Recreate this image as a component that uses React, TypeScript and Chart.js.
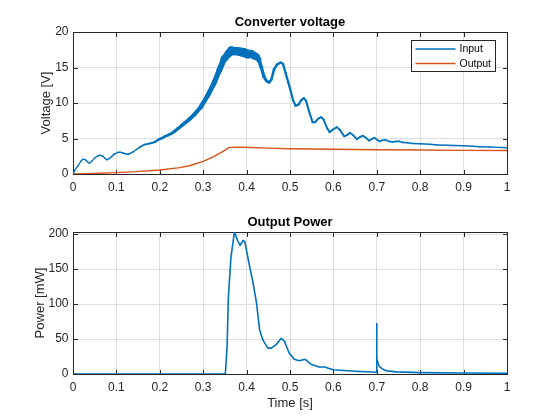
import React, { useEffect, useRef } from "react";
import { Chart, registerables } from "chart.js";

Chart.register(...registerables);

// ---- data ----
const INPUT_T = [
  0, 0.005, 0.0115, 0.018, 0.023, 0.029, 0.034, 0.038, 0.044, 0.05, 0.056, 0.062, 0.069, 0.074, 0.078,
  0.083, 0.088, 0.095, 0.104, 0.11, 0.115, 0.121, 0.127, 0.132, 0.138, 0.146, 0.154, 0.165, 0.175,
  0.181, 0.19, 0.196, 0.205, 0.212, 0.22, 0.227, 0.235, 0.242, 0.25, 0.258, 0.269, 0.28, 0.294, 0.31,
  0.325, 0.337, 0.348, 0.359, 0.365, 0.371, 0.378, 0.386, 0.394, 0.402, 0.41, 0.417, 0.423, 0.428,
  0.434, 0.44, 0.446, 0.452, 0.457, 0.463, 0.47, 0.478, 0.484, 0.49, 0.496, 0.502, 0.507, 0.513,
  0.52, 0.526, 0.532, 0.537, 0.544, 0.552, 0.558, 0.565, 0.572, 0.578, 0.586, 0.591, 0.6, 0.608,
  0.615, 0.625, 0.632, 0.638, 0.645, 0.654, 0.661, 0.668, 0.675, 0.682, 0.689, 0.695, 0.7, 0.706,
  0.713, 0.72, 0.728, 0.737, 0.745, 0.752, 0.76, 0.77, 0.783, 0.8, 0.822, 0.84, 0.86, 0.88, 0.9,
  0.92, 0.937, 0.96, 0.98, 1.0,
];
const INPUT_V = [
  0, 0.6, 1.15, 1.8, 2.1, 2.0, 1.7, 1.5, 1.85, 2.25, 2.5, 2.65, 2.5, 2.2, 2.0,
  2.15, 2.4, 2.8, 3.05, 3.05, 2.95, 2.85, 2.78, 2.9, 3.1, 3.45, 3.8, 4.15, 4.28,
  4.35, 4.55, 4.8, 5.05, 5.3, 5.5, 5.7, 6.05, 6.4, 6.8, 7.2, 7.75, 8.4, 9.4, 11.0,
  12.8, 14.6, 16.2, 17.0, 17.4, 17.3, 17.3, 17.2, 17.1, 16.9, 16.9, 16.7, 16.5, 16.1,
  15.0, 13.7, 13.1, 12.9, 13.3, 14.7, 15.4, 15.7, 15.5, 14.2, 12.9, 11.6, 10.4, 9.6,
  9.8, 10.4, 10.7, 10.3, 8.8, 7.3, 7.3, 7.8, 8.0, 7.6, 6.4, 5.9, 6.3, 6.6,
  6.2, 5.3, 5.5, 5.8, 5.5, 4.9, 5.2, 5.4, 5.1, 4.7, 4.95, 5.1, 4.85, 4.6,
  4.75, 4.8, 4.6, 4.5, 4.6, 4.6, 4.45, 4.4, 4.3, 4.25, 4.2, 4.1, 4.05, 4.0, 3.98,
  3.9, 3.85, 3.8, 3.75, 3.7,
];

const OUTPUT_T = [0, 0.03, 0.06, 0.1, 0.146, 0.2, 0.246, 0.27, 0.3, 0.323, 0.346, 0.358, 0.365, 0.377, 0.408, 0.45, 0.5, 0.6, 0.7, 0.8, 0.9, 1.0];
const OUTPUT_V = [0, 0.05, 0.1, 0.2, 0.33, 0.57, 0.9, 1.2, 1.77, 2.4, 3.2, 3.68, 3.75, 3.78, 3.73, 3.65, 3.55, 3.48, 3.42, 3.38, 3.33, 3.3];

const POWER_T = [
  0, 0.351, 0.355, 0.358, 0.364, 0.372, 0.379, 0.385, 0.392, 0.396, 0.404, 0.415, 0.423, 0.43, 0.438,
  0.449, 0.457, 0.468, 0.48, 0.487, 0.498, 0.51, 0.521, 0.535, 0.548, 0.567, 0.58, 0.59, 0.6, 0.65,
  0.69, 0.6995, 0.6998, 0.7002, 0.704, 0.708, 0.715, 0.723, 0.746, 0.8, 0.9, 1.0,
];
const POWER_MW = [
  0, 0, 39, 110, 167, 203, 191, 184, 191, 189, 163, 130, 101, 63, 48,
  37, 37, 42, 51, 47, 30, 21, 19, 21, 14, 10, 10, 8, 6, 4,
  2.9, 2.5, 72, 22, 13, 9.5, 6.5, 4.5, 3, 2, 1.5, 1,
];

const X_TICKS = [0, 0.1, 0.2, 0.3, 0.4, 0.5, 0.6, 0.7, 0.8, 0.9, 1];
const V_TICKS = [0, 5, 10, 15, 20];
const P_TICKS = [0, 50, 100, 150, 200];
const V_MAX = 20;
const P_MAX = 203;

// ---- style ----
const FONT = '"Liberation Sans", Arial, Helvetica, sans-serif';
const AX = "#262626";
const GRID = "#dfdfdf";
const BLUE = "#0072BD";
const ORANGE = "#D95319";

// stroke thickness profile used to imitate the noisy band of the measured signal
const WIDTH_AT: [number, number][] = [
  [0, 1.3], [0.15, 1.5], [0.2, 2.3], [0.25, 3.4], [0.3, 4.4], [0.34, 5.5], [0.36, 8],
  [0.4, 9], [0.42, 7], [0.432, 3.5], [0.45, 2.6], [0.5, 2.2], [0.6, 1.9], [0.75, 1.6], [1, 1.4],
];

const pts = (xs: number[], ys: number[]) => xs.map((x, i) => ({ x, y: ys[i] }));

const noiseWidth = (t: number) => {
  for (let i = 1; i < WIDTH_AT.length; i++) {
    const [t1, w1] = WIDTH_AT[i];
    const [t0, w0] = WIDTH_AT[i - 1];
    if (t <= t1) return w0 + ((w1 - w0) * (t - t0)) / (t1 - t0);
  }
  return WIDTH_AT[WIDTH_AT.length - 1][1];
};

const fmtX = (v: number) => (v === 0 ? "0" : v === 1 ? "1" : v.toFixed(1));

const boxPlugin = {
  id: "matlabBox",
  beforeDatasetsDraw(chart: any) {
    const { ctx, chartArea: a, scales } = chart;
    const L = Math.round(a.left) + 0.5;
    const R = Math.round(a.right) + 0.5;
    const T = Math.round(a.top) + 0.5;
    const B = Math.round(a.bottom) + 0.5;
    const tl = 4.5;
    ctx.save();
    ctx.strokeStyle = AX;
    ctx.lineWidth = 1;
    ctx.beginPath();
    scales.x.ticks.forEach((t: any) => {
      const p = Math.round(scales.x.getPixelForValue(t.value)) + 0.5;
      ctx.moveTo(p, B);
      ctx.lineTo(p, B - tl);
      ctx.moveTo(p, T);
      ctx.lineTo(p, T + tl);
    });
    scales.y.ticks.forEach((t: any) => {
      const p = Math.round(scales.y.getPixelForValue(t.value)) + 0.5;
      ctx.moveTo(L, p);
      ctx.lineTo(L + tl, p);
      ctx.moveTo(R, p);
      ctx.lineTo(R - tl, p);
    });
    ctx.stroke();
    ctx.strokeRect(L, T, R - L, B - T);
    ctx.restore();
  },
};

const legendPlugin = {
  id: "matlabLegend",
  afterDatasetsDraw(chart: any) {
    const { ctx, chartArea: a } = chart;
    const ds = chart.data.datasets;
    ctx.save();
    ctx.font = `10.5px ${FONT}`;
    const tw = Math.max(...ds.map((d: any) => ctx.measureText(d.label).width));
    const w = Math.round(4 + 40 + 4 + tw + 4);
    const h = 31;
    const right = Math.round(a.right) - 11.5;
    const top = Math.round(a.top) + 8.5;
    const left = right - w;
    ctx.fillStyle = "#fff";
    ctx.fillRect(left, top, w, h);
    ctx.strokeStyle = AX;
    ctx.lineWidth = 1;
    ctx.strokeRect(left, top, w, h);
    ds.forEach((d: any, i: number) => {
      const y = top + 8.5 + i * 14.5;
      ctx.strokeStyle = d.borderColor;
      ctx.lineWidth = 1.3;
      ctx.beginPath();
      ctx.moveTo(left + 4, y);
      ctx.lineTo(left + 44, y);
      ctx.stroke();
      ctx.fillStyle = "#000";
      ctx.textBaseline = "middle";
      ctx.textAlign = "left";
      ctx.fillText(d.label, left + 48, y + 0.5);
    });
    ctx.restore();
  },
};

function makeOptions(opts: {
  title: string;
  yTitle: string;
  yTitlePad: number;
  yTicks: number[];
  yMax: number;
  topPad: number;
  xHeight: number;
  xTitle?: string;
}) {
  return {
    responsive: false,
    animation: false as const,
    layout: { padding: { left: 0, right: 53, top: opts.topPad, bottom: 0 } },
    plugins: {
      legend: { display: false },
      tooltip: { enabled: false },
      title: {
        display: true,
        text: opts.title,
        fullSize: false,
        color: "#000",
        font: { family: FONT, size: 13, weight: "bold" as const, lineHeight: 1.2 },
        padding: { top: 0, bottom: 2.2 },
      },
    },
    scales: {
      x: {
        type: "linear" as const,
        min: 0,
        max: 1,
        afterBuildTicks: (s: any) => {
          s.ticks = X_TICKS.map((v) => ({ value: v }));
        },
        afterFit: (s: any) => {
          s.height = opts.xHeight;
        },
        grid: { color: GRID, drawTicks: false, lineWidth: 1 },
        border: { display: false },
        ticks: {
          color: AX,
          font: { family: FONT, size: 12, lineHeight: 1.2 },
          padding: 6.8,
          maxRotation: 0,
          autoSkip: false,
          callback: (v: any) => fmtX(Number(v)),
        },
        title: opts.xTitle
          ? {
              display: true,
              text: opts.xTitle,
              color: AX,
              font: { family: FONT, size: 13, lineHeight: 1.2 },
              padding: { top: 0, bottom: 9.2 },
            }
          : { display: false },
      },
      y: {
        type: "linear" as const,
        min: 0,
        max: opts.yMax,
        afterBuildTicks: (s: any) => {
          s.ticks = opts.yTicks.map((v) => ({ value: v }));
        },
        afterFit: (s: any) => {
          s.width = 73;
        },
        grid: { color: GRID, drawTicks: false, lineWidth: 1 },
        border: { display: false },
        ticks: {
          color: AX,
          font: { family: FONT, size: 12, lineHeight: 1.2 },
          padding: 4.5,
          callback: (v: any) => String(v),
        },
        title: {
          display: true,
          text: opts.yTitle,
          color: AX,
          font: { family: FONT, size: 13, lineHeight: 1.2 },
          padding: { top: opts.yTitlePad, bottom: 0 },
        },
      },
    },
  };
}

export default function App() {
  const topRef = useRef<HTMLCanvasElement>(null);
  const botRef = useRef<HTMLCanvasElement>(null);

  useEffect(() => {
    const top = new Chart(topRef.current!, {
      type: "line",
      data: {
        datasets: [
          {
            label: "Input",
            data: pts(INPUT_T, INPUT_V),
            borderColor: BLUE,
            borderWidth: 1.3,
            pointRadius: 0,
            tension: 0,
            borderJoinStyle: "round",
            borderCapStyle: "round",
            segment: {
              borderWidth: (c: any) => noiseWidth((c.p0.parsed.x + c.p1.parsed.x) / 2),
            },
          } as any,
          {
            label: "Output",
            data: pts(OUTPUT_T, OUTPUT_V),
            borderColor: ORANGE,
            borderWidth: 1.4,
            pointRadius: 0,
            tension: 0,
          },
        ],
      },
      options: makeOptions({
        title: "Converter voltage",
        yTitle: "Voltage [V]",
        yTitlePad: 38.5,
        yTicks: V_TICKS,
        yMax: V_MAX,
        topPad: 14.2,
        xHeight: 36,
      }) as any,
      plugins: [boxPlugin, legendPlugin],
    });

    const bot = new Chart(botRef.current!, {
      type: "line",
      data: {
        datasets: [
          {
            label: "Power",
            data: pts(POWER_T, POWER_MW),
            borderColor: BLUE,
            borderWidth: 1.6,
            pointRadius: 0,
            tension: 0,
            borderJoinStyle: "round",
          },
        ],
      },
      options: makeOptions({
        title: "Output Power",
        yTitle: "Power [mW]",
        yTitlePad: 32.2,
        yTicks: P_TICKS,
        yMax: P_MAX,
        topPad: 4.2,
        xHeight: 46,
        xTitle: "Time [s]",
      }) as any,
      plugins: [boxPlugin],
    });

    return () => {
      top.destroy();
      bot.destroy();
    };
  }, []);

  return (
    <div style={{ position: "absolute", left: 0, top: 0, width: 560, height: 420, background: "#fff" }}>
      <canvas ref={topRef} width={560} height={210} style={{ position: "absolute", left: 0, top: 0, width: 560, height: 210 }} />
      <canvas ref={botRef} width={560} height={210} style={{ position: "absolute", left: 0, top: 210, width: 560, height: 210 }} />
    </div>
  );
}
